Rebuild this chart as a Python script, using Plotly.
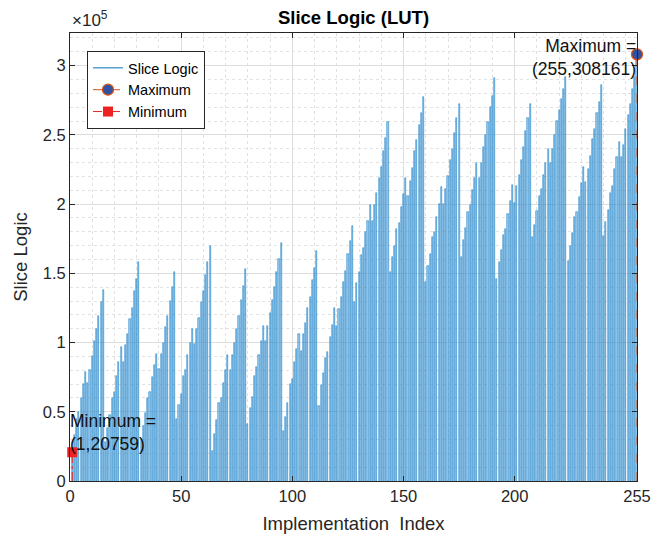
import plotly.graph_objects as go

# ---------------- data ----------------
implementation_index = list(range(1, 256))
slice_logic = [
    20759, 33000, 45000, 50000, 60000, 70000, 79000, 71000, 80000, 90000, 101000, 110000, 119000, 129000, 138000,
    28000, 38000, 48000, 60000, 64000, 76000, 86000, 97000, 86000, 98000, 106000, 117000, 125000, 137000, 146000, 158000,
    30000, 40000, 49000, 60000, 64000, 75000, 84000, 92000, 81000, 92000, 100000, 111000, 119000, 130000, 140000, 151000,
    45000, 55000, 63000, 76000, 80000, 91000, 100000, 110000, 99000, 110000, 118000, 129000, 137000, 149000, 158000, 170000,
    22000, 34000, 44000, 56000, 60000, 71000, 80000, 91000, 80000, 91000, 100000, 110000, 119000, 131000, 141000, 153000,
    41000, 53000, 61000, 76000, 82000, 91000, 101000, 112000, 101000, 112000, 121000, 131000, 140000, 151000, 160000, 172000,
    36000, 46000, 56000, 70000, 74000, 86000, 95000, 106000, 94000, 106000, 114000, 125000, 133000, 145000, 154000, 166000,
    54000, 69000, 78000, 89000, 93000, 104000, 113000, 125000, 112000, 124000, 133000, 144000, 152000, 164000, 173000, 184000,
    129000, 143000, 151000, 163000, 168000, 180000, 188000, 199000, 188000, 199000, 208000, 219000, 227000, 238000, 248000, 259000,
    151000, 162000, 170000, 182000, 186000, 198000, 207000, 219000, 206000, 217000, 226000, 238000, 246000, 257000, 266000, 277000,
    144000, 155000, 164000, 176000, 180000, 191000, 200000, 212000, 200000, 211000, 220000, 232000, 240000, 251000, 262000, 272000,
    162000, 174000, 183000, 194000, 199000, 210000, 219000, 230000, 219000, 230000, 241000, 250000, 259000, 270000, 278000, 291000,
    146000, 158000, 167000, 178000, 182000, 193000, 202000, 214000, 201000, 213000, 221000, 232000, 241000, 253000, 262000, 272000,
    176000, 185000, 195000, 206000, 211000, 221000, 230000, 240000, 230000, 240000, 250000, 260000, 268000, 276000, 283000, 292000,
    159000, 170000, 179000, 191000, 194000, 205000, 215000, 227000, 216000, 225000, 235000, 247000, 254000, 266000, 274000, 286000,
    177000, 187000, 196000, 208000, 213000, 225000, 234000, 245000, 234000, 243000, 254000, 264000, 272000, 283000, 292000, 308161,
]
max_point = (255, 308161)
min_point = (1, 20759)
x_tickvals = [0, 50, 100, 150, 200, 255]
y_tickvals = [0, 50000, 100000, 150000, 200000, 250000, 300000]
y_ticktext = ["0", "0.5", "1", "1.5", "2", "2.5", "3"]

FONT = "Liberation Sans, Arial, Helvetica, sans-serif"
AX = "#262626"
FIG_W, FIG_H = 651, 535

fig = go.Figure()

fig.add_trace(go.Bar(
    x=implementation_index, y=slice_logic, width=0.5,
    marker=dict(color="rgba(120,185,230,0.75)", line=dict(color="#1a7fc6", width=0.55)),
    showlegend=False, hoverinfo="x+y",
))
fig.add_trace(go.Scatter(x=[None], y=[None], mode="lines", name="Slice Logic",
                         line=dict(color="#0072BD", width=1)))

fig.add_trace(go.Scatter(x=[max_point[0], max_point[0]], y=[0, max_point[1]], mode="lines",
                         line=dict(color="#D95319", width=1, dash="dash"), showlegend=False,
                         cliponaxis=False))
fig.add_trace(go.Scatter(x=[max_point[0]], y=[max_point[1]], mode="lines+markers", name="Maximum",
                         line=dict(color="#D95319", width=1, dash="dash"),
                         marker=dict(symbol="circle", size=11, color="#3052A0",
                                     line=dict(color="#D95319", width=1.3)),
                         cliponaxis=False))
fig.add_trace(go.Scatter(x=[min_point[0], min_point[0]], y=[0, min_point[1]], mode="lines",
                         line=dict(color="#EE2222", width=1, dash="dashdot"), showlegend=False))
fig.add_trace(go.Scatter(x=[min_point[0]], y=[min_point[1]], mode="lines+markers", name="Minimum",
                         line=dict(color="#EE2222", width=1, dash="dashdot"),
                         marker=dict(symbol="square", size=10, color="#EE2222"),
                         cliponaxis=False))

fig.add_annotation(x=max_point[0], y=max_point[1], xref="x", yref="y",
                   text=f"Maximum =<br>({max_point[0]},{max_point[1]})",
                   showarrow=False, xanchor="right", yanchor="middle", align="right",
                   yshift=-3, xshift=1, font=dict(family=FONT, size=17.5, color="#111"))
fig.add_annotation(x=0, y=min_point[1], xref="x", yref="y",
                   text=f"Minimum =<br>({min_point[0]},{min_point[1]})",
                   showarrow=False, xanchor="left", yanchor="bottom", align="left",
                   yshift=-4, xshift=-2, font=dict(family=FONT, size=17.5, color="#111"))
fig.add_annotation(x=0, y=1, xref="paper", yref="paper", text="×10<sup>5</sup>",
                   showarrow=False, xanchor="left", yanchor="bottom", yshift=1,
                   font=dict(family=FONT, size=17, color=AX))

fig.update_layout(
    width=FIG_W, height=FIG_H,
    margin=dict(l=70, r=14, t=33, b=54, autoexpand=False),
    paper_bgcolor="white", plot_bgcolor="white",
    bargap=0,
    title=dict(text="<b>Slice Logic (LUT)</b>", x=353.5 / FIG_W, xanchor="center",
               y=1 - 18 / FIG_H, yanchor="middle", font=dict(family=FONT, size=18.5, color="#000")),
    font=dict(family=FONT, size=16.5, color=AX),
    legend=dict(x=0.03, y=0.96, xanchor="left", yanchor="top",
                bgcolor="white", bordercolor=AX, borderwidth=1,
                font=dict(family=FONT, size=14.5, color="#000"),
                itemwidth=30, tracegroupgap=0),
    xaxis=dict(range=[0, 255], tickvals=x_tickvals, ticks="inside", ticklen=5, tickcolor=AX,
               showline=True, linecolor=AX, linewidth=1, mirror="ticks", automargin=False,
               showgrid=True, gridcolor="#dedede", gridwidth=1, zeroline=False,
               minor=dict(dtick=10, showgrid=True, gridcolor="#e2e2e2", griddash="dot", ticks=""),
               title=dict(text="Implementation&nbsp;&nbsp;Index",
                          font=dict(family=FONT, size=18.5, color=AX), standoff=13)),
    yaxis=dict(range=[0, 1.05 * max_point[1]], tickvals=y_tickvals, ticktext=y_ticktext,
               ticks="inside", ticklen=5, tickcolor=AX, automargin=False,
               showline=True, linecolor=AX, linewidth=1, mirror="ticks",
               showgrid=True, gridcolor="#dedede", gridwidth=1, zeroline=False,
               minor=dict(dtick=10000, showgrid=True, gridcolor="#e2e2e2", griddash="dot", ticks=""),
               title=dict(text="Slice Logic", font=dict(family=FONT, size=18.5, color=AX), standoff=10)),
)

# remove the default page margin so the figure fills the 651x535 window exactly
fig.write_html("out.html", config={"displayModeBar": False},
               post_script="document.body.style.margin='0';document.body.style.overflow='hidden';")
